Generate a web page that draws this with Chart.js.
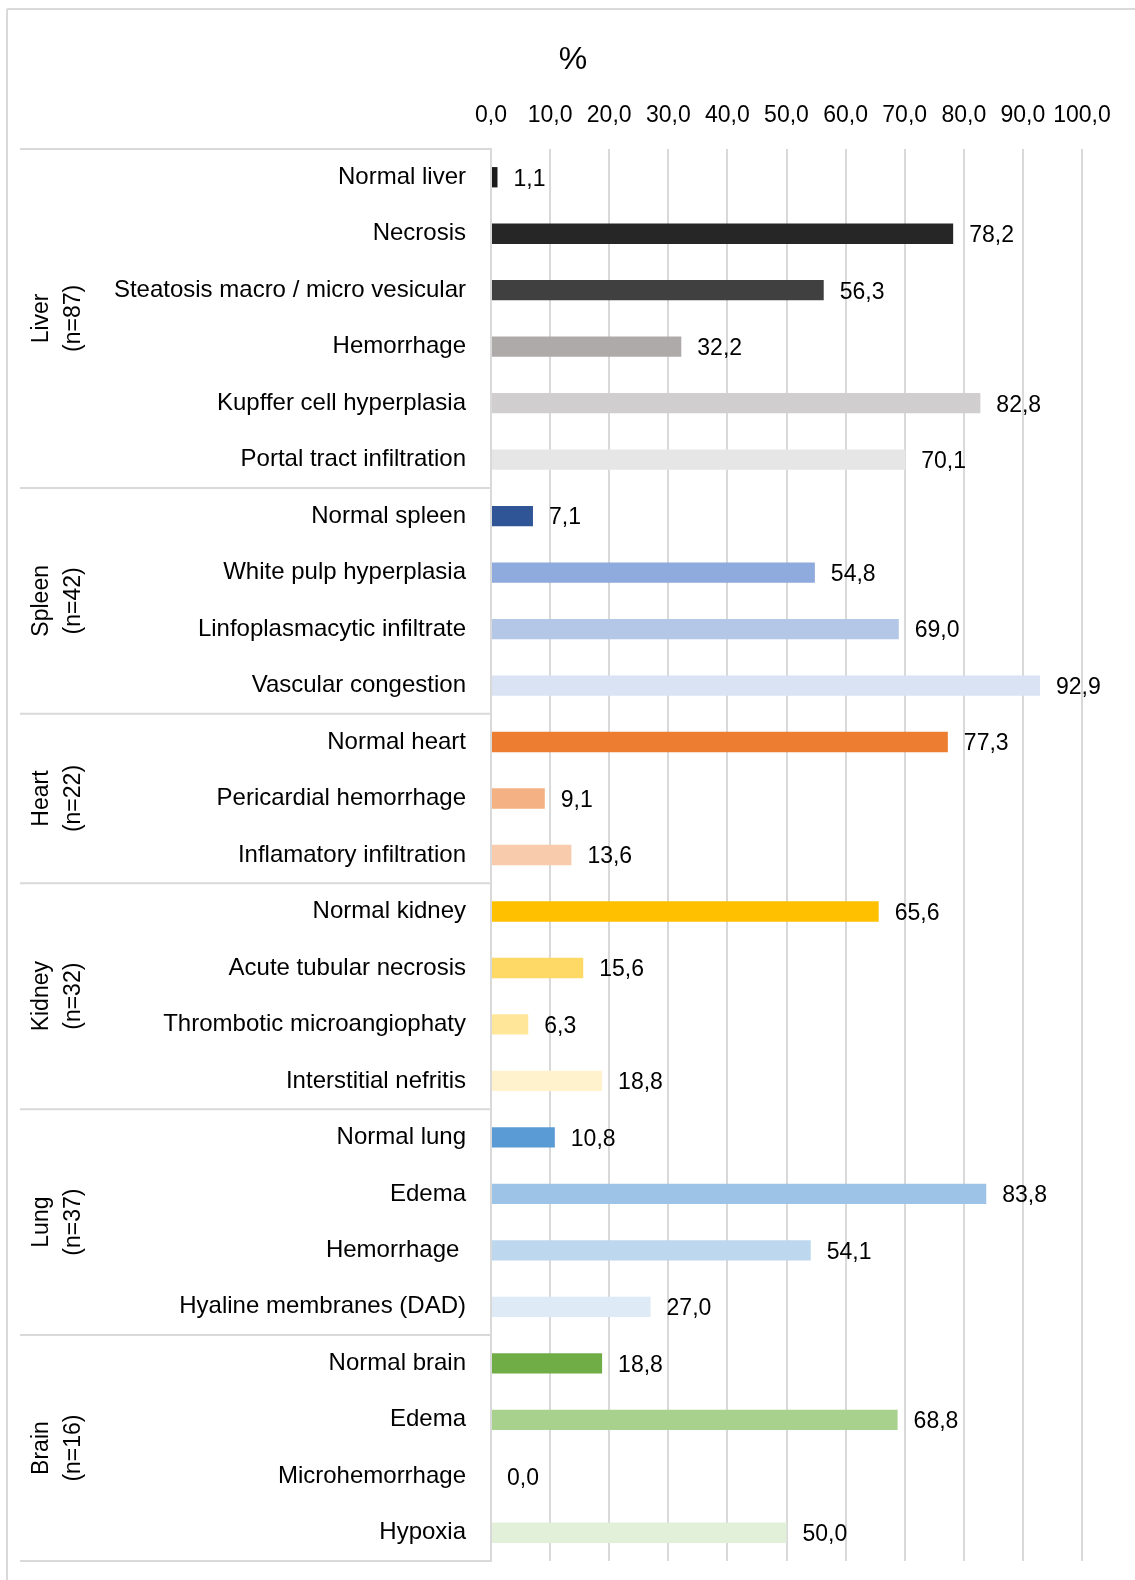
<!DOCTYPE html>
<html>
<head>
<meta charset="utf-8">
<script src="https://cdn.jsdelivr.net/npm/chart.js@4.4.0/dist/chart.umd.min.js"></script>
<style>
  html, body { margin: 0; padding: 0; background: #ffffff; }
  #wrap { width: 1135px; height: 1580px; position: relative; }
</style>
</head>
<body>
<div id="wrap"><canvas id="c" width="1135" height="1580"></canvas></div>
<script>
const categories = [
  "Normal liver", "Necrosis", "Steatosis macro / micro vesicular", "Hemorrhage", "Kupffer cell hyperplasia", "Portal tract infiltration",
  "Normal spleen", "White pulp hyperplasia", "Linfoplasmacytic infiltrate", "Vascular congestion",
  "Normal heart", "Pericardial hemorrhage", "Inflamatory infiltration",
  "Normal kidney", "Acute tubular necrosis", "Thrombotic microangiophaty", "Interstitial nefritis",
  "Normal lung", "Edema", "Hemorrhage ", "Hyaline membranes (DAD)",
  "Normal brain", "Edema", "Microhemorrhage", "Hypoxia"
];
const values = [
  1.1, 78.2, 56.3, 32.2, 82.8, 70.1,
  7.1, 54.8, 69.0, 92.9,
  77.3, 9.1, 13.6,
  65.6, 15.6, 6.3, 18.8,
  10.8, 83.8, 54.1, 27.0,
  18.8, 68.8, 0.0, 50.0
];
const barColors = [
  "#1a1a1a", "#262626", "#404040", "#aeaaaa", "#d0cece", "#e7e6e6",
  "#2f5597", "#8faadc", "#b4c7e7", "#dae3f3",
  "#ed7d31", "#f4b183", "#f8cbad",
  "#ffc000", "#ffd966", "#ffe699", "#fff2cc",
  "#5b9bd5", "#9dc3e6", "#bdd7ee", "#deebf7",
  "#70ad47", "#a9d18e", "#c5e0b4", "#e2f0d9"
];
const groupNames = ["Liver", "Spleen", "Heart", "Kidney", "Lung", "Brain"];
const groupN = ["(n=87)", "(n=42)", "(n=22)", "(n=32)", "(n=37)", "(n=16)"];
const groupSizes = [6, 4, 3, 4, 4, 4];
const xTickLabels = ["0,0", "10,0", "20,0", "30,0", "40,0", "50,0", "60,0", "70,0", "80,0", "90,0", "100,0"];
const axisTitle = "%";

const FONT = "'Liberation Sans', Arial, sans-serif";
const LINE = "#d9d9d9";

function fmt(v) { return v.toFixed(1).replace('.', ','); }

const decorPlugin = {
  id: 'decor',
  afterDraw(chart) {
    const ctx = chart.ctx;
    const area = chart.chartArea;
    const y = chart.scales.y;
    ctx.save();
    // outer frame
    ctx.strokeStyle = LINE;
    ctx.lineWidth = 2;
    ctx.beginPath();
    ctx.moveTo(7, 9); ctx.lineTo(1135, 9);
    ctx.moveTo(7, 9); ctx.lineTo(7, 1580);
    ctx.stroke();
    // group separators
    const bounds = [area.top];
    let idx = 0;
    groupSizes.forEach((s) => {
      idx += s;
      if (idx < categories.length) {
        bounds.push((y.getPixelForValue(idx - 1) + y.getPixelForValue(idx)) / 2);
      } else {
        bounds.push(area.bottom);
      }
    });
    ctx.beginPath();
    bounds.forEach(b => { ctx.moveTo(20, b); ctx.lineTo(area.left, b); });
    ctx.stroke();
    // group labels
    ctx.fillStyle = "#000";
    ctx.font = "23px " + FONT;
    ctx.textAlign = "center";
    ctx.textBaseline = "middle";
    for (let g = 0; g < groupNames.length; g++) {
      const cy = (bounds[g] + bounds[g + 1]) / 2;
      ctx.save();
      ctx.translate(42, cy);
      ctx.rotate(-Math.PI / 2);
      ctx.fillText(groupNames[g], 0, 0);
      ctx.restore();
      ctx.save();
      ctx.translate(74, cy);
      ctx.rotate(-Math.PI / 2);
      ctx.fillText(groupN[g], 0, 0);
      ctx.restore();
    }
    // axis title
    ctx.font = "32px " + FONT;
    ctx.fillText(axisTitle, 573, 60);
    // data labels
    ctx.font = "23px " + FONT;
    ctx.textAlign = "left";
    const meta = chart.getDatasetMeta(0);
    meta.data.forEach((bar, i) => {
      ctx.fillText(fmt(values[i]), bar.x + 16, bar.y + 2);
    });
    ctx.restore();
  }
};

new Chart(document.getElementById('c'), {
  type: 'bar',
  data: {
    labels: categories,
    datasets: [{
      data: values,
      backgroundColor: barColors,
      borderWidth: 0,
      barPercentage: 0.36,
      categoryPercentage: 1.0
    }]
  },
  options: {
    indexAxis: 'y',
    responsive: false,
    animation: false,
    layout: { padding: { top: 20, right: 53, bottom: 19, left: 0 } },
    plugins: { legend: { display: false }, tooltip: { enabled: false }, title: { display: false } },
    scales: {
      x: {
        position: 'top',
        min: 0, max: 100,
        afterFit(s) { s.height = 129; s.paddingLeft = 0; s.paddingRight = 0; },
        ticks: {
          stepSize: 10,
          padding: 20,
          color: '#000',
          font: { family: FONT, size: 23 },
          maxRotation: 0,
          autoSkip: false,
          callback: (v, i) => xTickLabels[i]
        },
        grid: { color: LINE, lineWidth: 2, drawTicks: false },
        border: { display: false }
      },
      y: {
        afterFit(s) { s.width = 491; s.paddingTop = 0; s.paddingBottom = 0; },
        ticks: {
          padding: 25,
          color: '#000',
          font: { family: FONT, size: 24 },
          autoSkip: false
        },
        grid: { display: false, drawTicks: false },
        border: { display: true, color: LINE, width: 2 }
      }
    }
  },
  plugins: [decorPlugin]
});
</script>
</body>
</html>
